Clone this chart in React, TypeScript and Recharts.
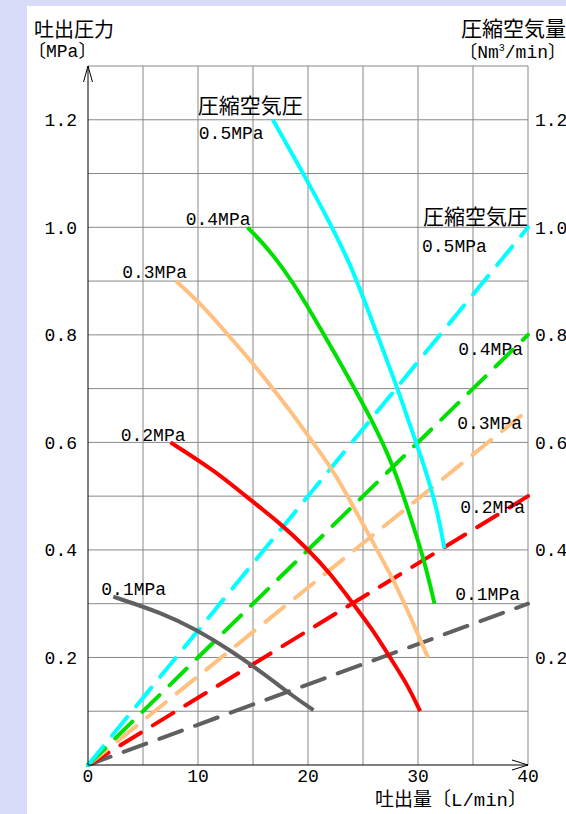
import { ComposedChart, Line, XAxis, YAxis, ReferenceLine, ReferenceDot } from "recharts"

const FONT = '"Liberation Mono", "Noto Sans CJK JP", monospace'

// axis ticks and grid
const xTicks = [0, 10, 20, 30, 40]
const yTicks = [0.2, 0.4, 0.6, 0.8, 1.0, 1.2]
const gridX = [5, 10, 15, 20, 25, 30, 35, 40]
const gridY = [0.1, 0.2, 0.3, 0.4, 0.5, 0.6, 0.7, 0.8, 0.9, 1.0, 1.1, 1.2, 1.3]

// discharge pressure vs discharge flow (solid curves)
const press05 = [
  { x: 16.8, y: 1.2 }, { x: 19.9, y: 1.088 }, { x: 22, y: 1.008 }, { x: 23.8, y: 0.933 },
  { x: 25, y: 0.871 }, { x: 28.1, y: 0.703 }, { x: 29.1, y: 0.642 },
  { x: 30.5, y: 0.561 }, { x: 31.7, y: 0.48 }, { x: 32.4, y: 0.403 },
]
const press04 = [
  { x: 14.5, y: 1.0 }, { x: 16.5, y: 0.958 }, { x: 18.7, y: 0.896 }, { x: 20.5, y: 0.834 },
  { x: 22.6, y: 0.76 }, { x: 23.8, y: 0.716 }, { x: 25.8, y: 0.642 }, { x: 27.8, y: 0.555 },
  { x: 29.1, y: 0.474 }, { x: 30.5, y: 0.387 }, { x: 31.5, y: 0.3 },
]
const press03 = [
  { x: 8, y: 0.9 }, { x: 10.2, y: 0.859 }, { x: 12.6, y: 0.803 }, { x: 15, y: 0.747 },
  { x: 17.15, y: 0.691 }, { x: 19, y: 0.642 }, { x: 20.8, y: 0.589 }, { x: 22.3, y: 0.549 },
  { x: 25.6, y: 0.425 }, { x: 27.8, y: 0.344 }, { x: 29.3, y: 0.276 }, { x: 30.9, y: 0.2 },
]
const press02 = [
  { x: 7.5, y: 0.6 }, { x: 11.4, y: 0.549 }, { x: 14.4, y: 0.499 }, { x: 17.45, y: 0.45 },
  { x: 19.9, y: 0.403 }, { x: 22, y: 0.357 }, { x: 24.1, y: 0.3 }, { x: 25.9, y: 0.251 },
  { x: 27.45, y: 0.2 }, { x: 28.97, y: 0.152 }, { x: 30.2, y: 0.1 },
]
const press01 = [
  { x: 2.3, y: 0.313 }, { x: 6.85, y: 0.282 }, { x: 9.9, y: 0.251 }, { x: 12.9, y: 0.214 },
  { x: 15.9, y: 0.171 }, { x: 18.7, y: 0.127 }, { x: 20.5, y: 0.102 },
]

// compressed air consumption vs discharge flow (dashed lines)
const air05 = [{ x: 0, y: 0 }, { x: 40, y: 1.0 }]
const air04 = [{ x: 0, y: 0 }, { x: 40, y: 0.8 }]
const air03 = [{ x: 0, y: 0 }, { x: 40, y: 0.66 }]
const air02 = [{ x: 0, y: 0 }, { x: 40, y: 0.5 }]
const air01 = [{ x: 0, y: 0 }, { x: 40, y: 0.3 }]

const CYAN = "#00ffff"
const GREEN = "#00e000"
const ORANGE = "#ffc080"
const RED = "#ff0000"
const GRAY = "#606060"

const txt = (s: string, dx: number, dy: number, anchor: "start" | "end", size = 18) => (p: any) => (
  <text x={p.cx + dx} y={p.cy + dy} textAnchor={anchor} fontSize={size} fontFamily={FONT} fill="#000">
    {s}
  </text>
)

const upArrow = (p: any) => (
  <path d={`M${p.cx - 4.5},${p.cy + 16} L${p.cx},${p.cy} L${p.cx + 4.5},${p.cy + 16}`} stroke="#000" fill="none" />
)
const rightArrow = (p: any) => (
  <path d={`M${p.cx - 16},${p.cy - 5} L${p.cx},${p.cy} L${p.cx - 16},${p.cy + 5}`} stroke="#000" fill="none" />
)

const tickStyle = { fontSize: 18, fontFamily: FONT, fill: "#000" }

export default function App() {
  const solid = { type: "basis" as const, strokeWidth: 4, dot: false, activeDot: false, isAnimationActive: false, dataKey: "y", yAxisId: "left" }
  const dashed = { type: "linear" as const, strokeWidth: 4, strokeDasharray: "24 14", strokeLinecap: "round" as const, dot: false, activeDot: false, isAnimationActive: false, dataKey: "y", yAxisId: "right" }
  return (
    <div style={{ position: "absolute", left: 0, top: 0, width: 566, height: 814, background: "#d9dcf8", overflow: "hidden", fontFamily: FONT }}>
      <div style={{ position: "absolute", left: 27, top: 6, width: 539, height: 808, background: "#fff" }} />
      <div style={{ position: "absolute", left: 34, top: 22, fontSize: 20, lineHeight: "20px", whiteSpace: "nowrap" }}>吐出圧力</div>
      <div style={{ position: "absolute", left: 28, top: 43, fontSize: 18, lineHeight: "18px", whiteSpace: "nowrap" }}>〔MPa〕</div>
      <div style={{ position: "absolute", left: 461, top: 20, fontSize: 21, lineHeight: "21px", whiteSpace: "nowrap" }}>圧縮空気量</div>
      <div style={{ position: "absolute", right: 0, top: 44, fontSize: 18, lineHeight: "18px", whiteSpace: "nowrap" }}>
        〔Nm<sup style={{ fontSize: 10, lineHeight: 0 }}>3</sup>/min〕
      </div>
      <div style={{ position: "absolute", left: 375, top: 792, fontSize: 19, lineHeight: "19px", whiteSpace: "nowrap" }}>吐出量〔L/min〕</div>
      <div style={{ position: "absolute", left: 0, top: 0 }}>
        <ComposedChart width={566} height={814} margin={{ top: 66, right: 0, bottom: 0, left: 28 }}>
          <XAxis
            type="number"
            dataKey="x"
            domain={[0, 40]}
            ticks={xTicks}
            height={49}
            axisLine={{ stroke: "#000" }}
            tickLine={false}
            tickSize={0}
            tickMargin={4}
            tick={tickStyle}
            allowDuplicatedCategory={false}
          />
          <YAxis
            yAxisId="left"
            type="number"
            domain={[0, 1.3]}
            ticks={yTicks}
            width={60}
            axisLine={{ stroke: "#000" }}
            tickLine={false}
            tickSize={0}
            tickMargin={11}
            tick={tickStyle}
            tickFormatter={(v: number) => v.toFixed(1)}
          />
          <YAxis
            yAxisId="right"
            orientation="right"
            type="number"
            domain={[0, 1.3]}
            ticks={yTicks}
            width={38}
            axisLine={false}
            tickLine={false}
            tickSize={0}
            tickMargin={7}
            tick={tickStyle}
            tickFormatter={(v: number) => v.toFixed(1)}
          />
          {gridX.map((v) => (
            <ReferenceLine key={"gx" + v} yAxisId="left" x={v} stroke="#888" strokeWidth={1} />
          ))}
          {gridY.map((v) => (
            <ReferenceLine key={"gy" + v} yAxisId="left" y={v} stroke="#888" strokeWidth={1} />
          ))}

          <Line {...dashed} data={air01} stroke={GRAY} />
          <Line {...dashed} data={air02} stroke={RED} />
          <Line {...dashed} data={air03} stroke={ORANGE} />
          <Line {...dashed} data={air04} stroke={GREEN} />
          <Line {...dashed} data={air05} stroke={CYAN} />

          <Line {...solid} data={press01} stroke={GRAY} />
          <Line {...solid} data={press02} stroke={RED} />
          <Line {...solid} data={press03} stroke={ORANGE} />
          <Line {...solid} data={press04} stroke={GREEN} />
          <Line {...solid} data={press05} stroke={CYAN} />

          {/* labels of the pressure curves */}
          <ReferenceDot yAxisId="left" x={press05[0].x} y={press05[0].y} r={0} ifOverflow="visible" shape={txt("圧縮空気圧", -75, -7, "start", 21)} />
          <ReferenceDot yAxisId="left" x={press05[0].x} y={press05[0].y} r={0} ifOverflow="visible" shape={txt("0.5MPa", -74, 19, "start")} />
          <ReferenceDot yAxisId="left" x={press04[0].x} y={press04[0].y} r={0} ifOverflow="visible" shape={txt("0.4MPa", 3, -2, "end")} />
          <ReferenceDot yAxisId="left" x={press03[0].x} y={press03[0].y} r={0} ifOverflow="visible" shape={txt("0.3MPa", 11, -3, "end")} />
          <ReferenceDot yAxisId="left" x={press02[0].x} y={press02[0].y} r={0} ifOverflow="visible" shape={txt("0.2MPa", 15, -1, "end")} />
          <ReferenceDot yAxisId="left" x={press01[0].x} y={press01[0].y} r={0} ifOverflow="visible" shape={txt("0.1MPa", -12, -2, "start")} />

          {/* labels of the air lines */}
          <ReferenceDot yAxisId="right" x={air05[1].x} y={air05[1].y} r={0} ifOverflow="visible" shape={txt("圧縮空気圧", 0, -3, "end", 21)} />
          <ReferenceDot yAxisId="right" x={air05[1].x} y={air05[1].y} r={0} ifOverflow="visible" shape={txt("0.5MPa", -106, 25, "start")} />
          <ReferenceDot yAxisId="right" x={air04[1].x} y={air04[1].y} r={0} ifOverflow="visible" shape={txt("0.4MPa", -5, 20, "end")} />
          <ReferenceDot yAxisId="right" x={air03[1].x} y={air03[1].y} r={0} ifOverflow="visible" shape={txt("0.3MPa", -6, 19, "end")} />
          <ReferenceDot yAxisId="right" x={air02[1].x} y={air02[1].y} r={0} ifOverflow="visible" shape={txt("0.2MPa", -3, 17, "end")} />
          <ReferenceDot yAxisId="right" x={air01[1].x} y={air01[1].y} r={0} ifOverflow="visible" shape={txt("0.1MPa", -8, -4, "end")} />

          {/* axis arrows */}
          <ReferenceDot yAxisId="left" x={0} y={1.3} r={0} ifOverflow="visible" shape={upArrow} />
          <ReferenceDot yAxisId="left" x={40} y={0} r={0} ifOverflow="visible" shape={rightArrow} />
        </ComposedChart>
      </div>
    </div>
  )
}
